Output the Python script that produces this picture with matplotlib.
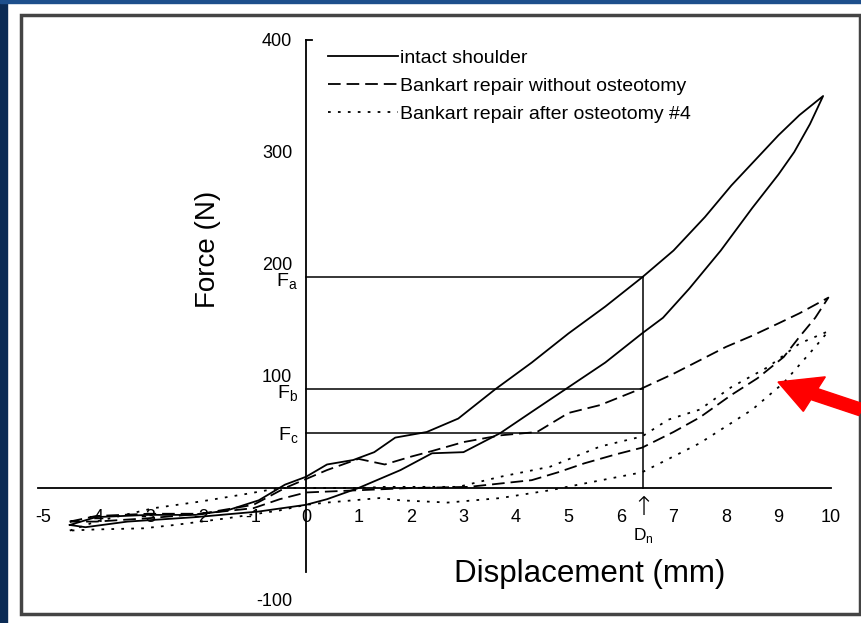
import numpy as np
import matplotlib
matplotlib.use("Agg")
import matplotlib.pyplot as plt
from matplotlib.patches import Rectangle, FancyArrow

plt.rcParams['font.family'] = ['Liberation Sans', 'DejaVu Sans']

# ---- data (displacement mm, force N) ----
# intact shoulder: loading branch then unloading branch
intact_x = [-4.5, -4.0, -3.0, -2.1, -1.5, -0.9, -0.4, 0.0, 0.4, 0.9, 1.3, 1.7, 2.3, 2.9,
            3.6, 4.3, 5.0, 5.7, 6.4, 7.0, 7.6, 8.1, 8.6, 9.0, 9.4, 9.85,
            9.6, 9.3, 9.0, 8.5, 7.9, 7.3, 6.8, 6.4, 5.7, 5.0, 4.3, 3.7, 3.0, 2.4,
            1.8, 1.0, 0.4, 0.0, -0.9, -2.1, -3.4, -4.2, -4.5]
intact_y = [-33, -26, -24, -24, -20, -11, 3, 10, 21, 25, 32, 45, 50, 62,
            88, 112, 138, 162, 188, 212, 242, 270, 295, 315, 333, 350,
            325, 300, 280, 250, 212, 178, 152, 138, 112, 90, 68, 49, 32, 31,
            16, 0, -10, -15, -21, -26, -30, -35, -33]

# Bankart repair without osteotomy
bank_x = [-4.5, -4.0, -3.0, -2.0, -1.0, -0.4, 0.0, 0.4, 1.0, 1.5, 2.0, 2.4, 3.0, 3.7,
          4.4, 5.0, 5.6, 6.4, 7.0, 7.5, 8.0, 8.5, 9.0, 9.4, 9.95,
          9.7, 9.4, 9.1, 8.6, 8.1, 7.5, 7.0, 6.4, 5.9, 5.3, 4.8, 4.3, 3.7, 3.1,
          2.0, 1.0, 0.0, -0.5, -1.0, -2.0, -3.0, -4.0, -4.5]
bank_y = [-30, -25, -23, -23, -15, 0, 8, 16, 26, 21, 28, 33, 41, 47,
          50, 67, 74, 89, 102, 114, 126, 136, 147, 156, 170,
          152, 135, 117, 98, 83, 63, 50, 36, 30, 22, 14, 7, 4, 1,
          0, -2, -4, -10, -18, -23, -27, -30, -30]

# Bankart repair after osteotomy #4
osteo_x = [-4.5, -4.0, -2.9, -2.0, -1.1, -0.5, 0.0, 0.5, 1.0, 1.5, 2.0, 2.9, 3.7,
           4.65, 5.6, 6.4, 6.9, 7.5, 8.1, 8.8, 9.4, 9.95,
           9.7, 9.1, 8.5, 7.5, 6.4, 5.3, 4.65, 3.7, 2.7, 1.8, 1.4, 0.4, 0.0,
           -0.5, -1.5, -2.5, -3.1, -4.0, -4.5]
osteo_y = [-38, -30, -18, -12, -5, 0, 0, 0, 0, 1, 1, 1, 10,
           19, 37, 46, 61, 70, 90, 108, 129, 140,
           126, 94, 70, 40, 14, 4, -2, -9, -13, -11, -9, -13, -15,
           -20, -27, -33, -36, -37, -38]

x_ticks = [-5, -4, -3, -2, -1, 0, 1, 2, 3, 4, 5, 6, 7, 8, 9, 10]
y_ticks = [-100, 100, 200, 300, 400]
F_a, F_b, F_c = 188, 88, 49
D_n = 6.42

W, H = 862, 623
fig = plt.figure(figsize=(W / 100, H / 100), dpi=100)
fig.patch.set_facecolor('white')

# dark slide border and grey frame
fig.patches.append(Rectangle((0, 0), 7 / W, 1, transform=fig.transFigure, color='#0b2b55', zorder=0))
fig.patches.append(Rectangle((0, 1 - 3 / H), 1, 3 / H, transform=fig.transFigure, color='#1d4f8c', zorder=0))
fig.patches.append(Rectangle((21 / W, (H - 614) / H), (860 - 21) / W, (614 - 15) / H,
                             transform=fig.transFigure, fill=False, ec='#444444', lw=2.5, zorder=1))

# axes placed so that 1 mm = 52.5 px and 100 N = 112 px
x0, y0 = 306, 488
xl, xr = -5.5, 10.5
yb, yt = -110, 410
left = (x0 + 52.5 * xl) / W
right = (x0 + 52.5 * xr) / W
bottom = (H - (y0 - 1.12 * yb)) / H
top = (H - (y0 - 1.12 * yt)) / H
ax = fig.add_axes([left, bottom, right - left, top - bottom])
ax.set_xlim(xl, xr)
ax.set_ylim(yb, yt)
ax.patch.set_alpha(0)

for s in ['top', 'right']:
    ax.spines[s].set_visible(False)
ax.spines['left'].set_position(('data', 0))
ax.spines['bottom'].set_position(('data', 0))
ax.spines['left'].set_bounds(-75, 400)
ax.spines['bottom'].set_bounds(-5.1, 10.0)
ax.spines['left'].set_linewidth(1.3)
ax.spines['bottom'].set_linewidth(1.3)

ax.set_xticks(x_ticks)
ax.set_xticklabels([str(t) for t in x_ticks])
ax.set_yticks(y_ticks)
ax.set_yticklabels([str(t) for t in y_ticks])
ax.tick_params(axis='x', length=0, pad=15, labelsize=13)
ax.tick_params(axis='y', length=0, pad=10, labelsize=13)
ax.plot([0, 0.12], [400, 400], color='black', lw=1.3)

# curves
lw = 1.3
ax.plot(intact_x, intact_y, color='black', lw=lw, label='intact shoulder')
ax.plot(bank_x, bank_y, color='black', lw=lw, dashes=(7, 3.3), label='Bankart repair without osteotomy')
ax.plot(osteo_x, osteo_y, color='black', lw=lw, dashes=(1.5, 4.0), label='Bankart repair after osteotomy #4')

# reference lines
for f in [F_a, F_b, F_c]:
    ax.plot([0, D_n], [f, f], color='black', lw=1.1)
ax.plot([D_n, D_n], [0, F_a], color='black', lw=1.1)

ax.text(-0.15, F_a - 4, r'F$_\mathregular{a}$', ha='right', va='center', fontsize=14)
ax.text(-0.15, F_b - 4, r'F$_\mathregular{b}$', ha='right', va='center', fontsize=14)
ax.text(-0.15, F_c - 2, r'F$_\mathregular{c}$', ha='right', va='center', fontsize=14)
ax.text(D_n, -17, '\u2191', ha='center', va='center', fontsize=19,
        family=['DejaVu Sans'], fontweight='light')
ax.text(D_n, -42, r'D$_\mathregular{n}$', ha='center', va='center', fontsize=12.5)

ax.text(-1.87, 213, 'Force (N)', rotation=90, ha='center', va='center', fontsize=20)
ax.text(5.4, -77, 'Displacement (mm)', ha='center', va='center', fontsize=22.5)

leg = ax.legend(loc='upper left', bbox_to_anchor=(0.42, 391.5), bbox_transform=ax.transData,
                frameon=False, fontsize=14, borderpad=0, borderaxespad=0,
                handlelength=3.6, handletextpad=0.1, labelspacing=0.53)

# red arrow
fig.patches.append(FancyArrow(1.0, 1 - 410 / H, (778 - W) / W, (410 - 382) / H,
                              width=12 / H, head_width=38 / H, head_length=40 / W,
                              length_includes_head=True, transform=fig.transFigure,
                              color='#ff0000', zorder=5))

fig.savefig('out.png', dpi=100)
